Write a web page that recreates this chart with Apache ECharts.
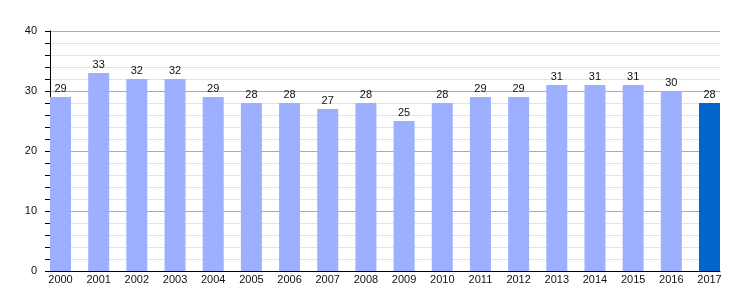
<!DOCTYPE html>
<html><head><meta charset="utf-8">
<script src="https://cdn.jsdelivr.net/npm/echarts@6/dist/echarts.min.js"></script>
<style>html,body{margin:0;padding:0;background:#fff}#c{width:750px;height:300px}</style>
</head><body><div id="c"></div>
<script>
const categories = ['2000','2001','2002','2003','2004','2005','2006','2007','2008','2009','2010','2011','2012','2013','2014','2015','2016','2017'];
const values = [29,33,32,32,29,28,28,27,28,25,28,29,29,31,31,31,30,28];
const yTicks = [0,10,20,30,40];

const plotLeft = 50, plotRight = 720, plotTop = 31, plotBottom = 271;
const barW = 21;
const band = (plotRight - plotLeft - barW) / (categories.length - 1);
const g1Left = plotLeft + barW / 2 - band / 2;
const g1Width = band * categories.length;
const font = 'Liberation Sans, Arial, sans-serif';

const chart = echarts.init(document.getElementById('c'), null, {renderer: 'canvas'});
chart.setOption({
  animation: false,
  grid: [
    {left: plotLeft, width: plotRight - plotLeft, top: plotTop, height: plotBottom - plotTop},
    {left: g1Left, width: g1Width, top: plotTop, height: plotBottom - plotTop}
  ],
  xAxis: [
    {gridIndex: 0, type: 'value', min: 0, max: 1, axisLine: {show: true, onZero: false, lineStyle: {color: '#000', width: 1}},
     axisTick: {show: false}, axisLabel: {show: false}, splitLine: {show: false}},
    {gridIndex: 1, type: 'category', data: categories, axisLine: {show: false}, axisTick: {show: false},
     axisLabel: {color: '#111', fontSize: 11, fontFamily: font, margin: 3}, splitLine: {show: false}}
  ],
  yAxis: [
    {gridIndex: 0, type: 'value', min: yTicks[0], max: yTicks[yTicks.length - 1], interval: 10,
     axisLine: {show: true, lineStyle: {color: '#000', width: 1}},
     axisTick: {show: true, length: 5, lineStyle: {color: '#000'}},
     minorTick: {show: true, splitNumber: 5, length: 5, lineStyle: {color: '#000'}},
     axisLabel: {color: '#111', fontSize: 11, fontFamily: font, margin: 13},
     splitLine: {show: true, lineStyle: {color: '#aaaaaa', width: 1}},
     minorSplitLine: {show: true, lineStyle: {color: '#e3e3e3', width: 1}}},
    {gridIndex: 1, type: 'value', min: 0, max: 40, show: false, splitLine: {show: false}}
  ],
  series: [{
    type: 'bar', xAxisIndex: 1, yAxisIndex: 1, barWidth: barW,
    data: values.map((v, i) => ({value: v, itemStyle: {color: i === values.length - 1 ? '#0066cc' : '#9db0ff'}})),
    label: {show: true, position: 'top', distance: 3, color: '#111', fontSize: 11, fontFamily: font}
  }]
});
</script></body></html>
